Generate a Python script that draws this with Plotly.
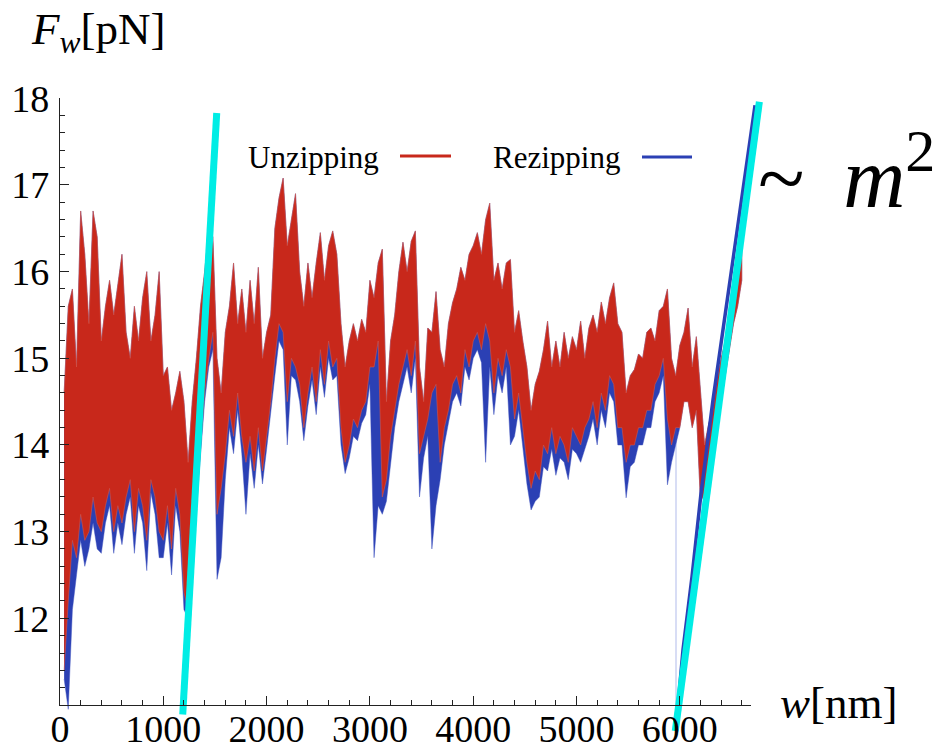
import plotly.graph_objects as go

# ---------------------------------------------------------------------------
# Data: wall force F_w (pN) versus position w (nm)
# Unzipping / rezipping force bands, sampled every 40 nm: upper and lower
# envelope of the unzipping curve, lower envelope of the rezipping curve.
# ---------------------------------------------------------------------------
W_NM = list(range(40, 6601, 40))

RED_HI = [
    14.6, 15.6, 15.8, 14.9, 16.7, 16.2, 15.4, 16.7, 16.4, 15.2,
    15.6, 15.9, 15.5, 15.85, 16.2, 15.3, 15.0, 15.6, 15.2, 15.7,
    16.0, 15.2, 15.5, 16.0, 14.8, 14.9, 14.4, 14.6, 14.85, 14.5,
    13.8, 14.5, 15.0, 15.6, 16.0, 16.5, 16.4, 15.0, 14.6, 15.3,
    15.6, 16.1, 15.4, 15.8, 15.3, 15.9, 15.4, 16.05, 15.0, 15.3,
    15.5, 16.5, 16.85, 17.08, 16.3, 16.6, 16.9, 16.0, 15.6, 16.1,
    15.7, 16.1, 16.45, 15.9, 16.3, 16.47, 16.2, 15.4, 14.9, 15.2,
    15.4, 15.2, 15.45, 15.3, 15.9, 15.7, 16.1, 16.26, 14.5, 15.2,
    15.5, 16.0, 16.34, 16.0, 16.35, 16.47, 14.9, 14.5, 15.35, 15.3,
    15.77, 15.1, 14.9, 15.4, 15.64, 15.8, 16.05, 15.9, 16.2, 16.3,
    16.45, 16.2, 16.6, 16.79, 15.9, 16.1, 15.8, 16.1, 16.14, 15.3,
    15.55, 15.2, 14.9, 14.4, 14.7, 14.85, 15.1, 15.43, 14.9, 15.2,
    14.9, 15.3, 15.0, 15.25, 15.1, 15.43, 15.0, 15.35, 15.5, 15.3,
    15.65, 15.4, 15.7, 15.87, 15.4, 15.3, 14.6, 14.8, 14.87, 15.05,
    15.0, 15.3, 15.35, 15.2, 15.55, 15.6, 15.8, 15.0, 14.8, 15.15,
    15.3, 15.58, 14.9, 15.25, 14.6, 14.0, 14.25, 14.4, 14.75, 15.0,
    15.2, 15.55, 15.8, 16.05, 16.35,
]

RED_LO = [
    11.4, 12.2, 12.9, 12.7, 13.2, 12.9, 13.0, 13.4, 13.1, 13.0,
    13.3, 13.5, 13.0, 13.3, 13.1, 13.4, 13.6, 13.0, 13.5, 13.3,
    12.9, 13.6, 13.4, 13.0, 12.9, 13.3, 12.8, 13.5, 13.2, 12.3,
    12.1, 12.8, 13.4, 14.0, 14.6, 15.0, 15.3, 13.2, 13.5, 13.9,
    14.4, 14.1, 14.6, 14.1, 13.8, 14.1, 13.7, 14.2, 13.7, 14.1,
    14.5, 15.0, 15.4, 15.3, 14.5, 15.0, 14.9, 14.7, 14.2, 14.6,
    14.9, 14.5, 15.1, 14.7, 15.2, 14.9, 15.0, 14.2, 13.8, 14.0,
    14.3, 14.2, 14.4, 14.5, 14.9, 14.9, 15.2, 13.4, 13.6, 14.1,
    14.4, 14.7, 14.9, 15.1, 14.8, 15.2, 13.9, 14.1, 14.3, 14.6,
    14.7, 13.8, 14.2, 14.4, 14.7, 14.8, 14.6, 15.1, 14.9, 15.2,
    15.3, 15.1, 15.4, 15.2, 14.6, 15.0, 14.8, 15.1, 14.9, 14.3,
    14.6, 14.2, 13.8, 13.5, 13.7, 13.6, 14.0, 13.9, 14.2, 13.9,
    14.1, 14.0, 13.8, 14.2, 14.1, 14.0, 14.2, 14.3, 14.5, 14.2,
    14.6, 14.4, 14.8, 14.7, 14.2, 14.2, 13.8, 14.0, 14.0, 14.2,
    14.2, 14.4, 14.4, 14.7, 14.8, 15.0, 14.3, 14.0, 14.2, 14.2,
    14.5, 14.5, 14.2, 14.4, 13.34, 13.45, 13.7, 13.9, 14.2, 14.5,
    14.8, 15.1, 15.4, 15.6, 15.9,
]

BLUE_LO = [
    11.3, 10.95, 12.1, 12.5, 12.9, 12.6, 12.8, 13.1, 12.8, 12.75,
    13.1, 13.3, 12.75, 13.1, 12.85, 13.2, 13.4, 12.75, 13.3, 13.1,
    12.55, 13.45, 13.2, 12.7, 12.7, 13.1, 12.5, 13.3, 13.0, 12.1,
    12.0, 12.7, 13.3, 13.9, 14.5, 14.9, 15.1, 12.45, 12.7, 13.6,
    14.2, 13.9, 14.4, 13.9, 13.2, 13.9, 13.5, 14.0, 13.55, 13.95,
    14.35, 14.8, 15.2, 15.1, 14.0, 14.8, 14.75, 14.5, 14.05, 14.45,
    14.75, 14.35, 14.9, 14.55, 15.0, 14.75, 14.8, 14.0, 13.67, 13.85,
    14.1, 14.05, 14.25, 14.35, 14.7, 12.7, 13.3, 13.2, 13.35, 13.8,
    14.2, 14.5, 14.7, 14.9, 14.6, 15.0, 13.4, 13.85, 14.1, 12.8,
    13.3, 13.6, 14.0, 14.25, 14.5, 14.6, 14.45, 14.9, 14.75, 15.0,
    15.1, 14.95, 13.8, 14.9, 14.35, 14.8, 14.6, 14.9, 14.0, 14.1,
    14.4, 14.0, 13.55, 13.25, 13.35, 13.4, 13.75, 13.7, 13.95, 13.65,
    13.85, 13.8, 13.6, 13.95, 13.9, 13.8, 13.95, 14.1, 14.3, 14.0,
    14.4, 14.2, 14.6, 14.5, 14.0, 14.0, 13.39, 13.75, 13.8, 14.0,
    14.0, 14.2, 14.2, 14.5, 14.6, 14.8, 13.54, 13.8, 14.0, 14.2,
    14.5, 14.5, 14.2, 14.4, 13.34, 13.45, 13.7, 13.9, 14.2, 14.5,
    14.8, 15.1, 15.4, 15.6, 15.9,
]

# final rezipping branch and the jump that precedes it
RAMP_W = [5983, 6031, 6118, 6205, 6321, 6457, 6592, 6728]
RAMP_F = [11.0, 11.64, 12.48, 13.44, 14.52, 15.68, 16.83, 17.92]
JUMP_W = [5963, 5963]
JUMP_F = [14.2, 11.0]

# straight guide lines along the two steep force ramps
FIT1_W = [1188, 1517]
FIT1_F = [10.89, 17.83]
FIT2_W = [5956, 6770]
FIT2_F = [10.70, 17.96]

X_TICKS = [0, 1000, 2000, 3000, 4000, 5000, 6000]
Y_TICKS = [12, 13, 14, 15, 16, 17, 18]

# ---------------------------------------------------------------------------
# Styling / geometry
# ---------------------------------------------------------------------------
FIG_W, FIG_H = 943, 751
BOX_L, BOX_R = 60.0, 751.0      # axis box, pixels
BOX_T, BOX_B = 98.3, 705.0
X_RANGE = [0, 6689]
Y_RANGE = [11.0, 18.0]

RED = "#C8281B"
BLUE = "#2B40B4"
CYAN = "#00EDE5"
SERIF = "Liberation Serif, Times New Roman, serif"

x_dom = [BOX_L / FIG_W, BOX_R / FIG_W]
y_dom = [1 - BOX_B / FIG_H, 1 - BOX_T / FIG_H]


def full_range(r, dom):
    """Range of an axis spanning the whole figure with the same scale."""
    span = (r[1] - r[0]) / (dom[1] - dom[0])
    return [r[0] - dom[0] * span, r[1] + (1 - dom[1]) * span]


fig = go.Figure()

# rezipping band (drawn first, peeks out below the unzipping band)
fig.add_trace(go.Scatter(
    x=W_NM + W_NM[::-1], y=RED_HI + BLUE_LO[::-1],
    fill="toself", fillcolor=BLUE, mode="lines",
    line=dict(color="rgba(60,80,190,0.45)", width=1.0),
    hoverinfo="skip", showlegend=False))

# unzipping band
fig.add_trace(go.Scatter(
    x=W_NM + W_NM[::-1], y=RED_HI + RED_LO[::-1],
    fill="toself", fillcolor=RED, mode="lines",
    line=dict(color="rgba(215,90,75,0.55)", width=1.0),
    hoverinfo="skip", showlegend=False))

fig.add_trace(go.Scatter(
    x=JUMP_W, y=JUMP_F, mode="lines",
    line=dict(color="rgba(70,95,205,0.35)", width=1.2),
    hoverinfo="skip", showlegend=False))

fig.add_trace(go.Scatter(
    x=RAMP_W, y=RAMP_F, mode="lines",
    line=dict(color=BLUE, width=3.5),
    hoverinfo="skip", showlegend=False))

for fw, ff in ((FIT1_W, FIT1_F), (FIT2_W, FIT2_F)):
    fig.add_trace(go.Scatter(
        x=fw, y=ff, mode="lines",
        line=dict(color=CYAN, width=7),
        hoverinfo="skip", showlegend=False))

# empty trace that carries the visible axes
fig.add_trace(go.Scatter(x=[], y=[], xaxis="x2", yaxis="y2",
                         hoverinfo="skip", showlegend=False))

axis_common = dict(
    showline=True, linecolor="#222", linewidth=1.3,
    ticks="inside", tickcolor="#222", tickwidth=1.2, ticklen=9,
    showgrid=False, zeroline=False, automargin=False,
    tickfont=dict(family=SERIF, size=38, color="black"),
)

fig.update_layout(
    width=FIG_W, height=FIG_H,
    margin=dict(l=0, r=0, t=0, b=0),
    paper_bgcolor="white", plot_bgcolor="rgba(0,0,0,0)",
    showlegend=False,
    xaxis=dict(domain=[0, 1], range=full_range(X_RANGE, x_dom), visible=False),
    yaxis=dict(domain=[0, 1], range=full_range(Y_RANGE, y_dom), visible=False),
    xaxis2=dict(domain=x_dom, range=X_RANGE, anchor="y2",
                tickvals=X_TICKS, ticklabelstandoff=-10,
                minor=dict(dtick=200, tick0=0, ticks="inside", ticklen=5,
                           tickcolor="#222", tickwidth=1.1),
                **axis_common),
    yaxis2=dict(domain=y_dom, range=Y_RANGE, anchor="x2",
                tickvals=Y_TICKS, ticklabelstandoff=2,
                minor=dict(dtick=0.2, tick0=11, ticks="inside", ticklen=5,
                           tickcolor="#222", tickwidth=1.1),
                **axis_common),
)

annotations = [
    dict(text="<i>F</i><sub><i>w</i></sub>[pN]", x=29 / FIG_W, y=1 - 32 / FIG_H,
         xanchor="left", yanchor="middle", font=dict(family=SERIF, size=45)),
    dict(text="<i>w</i>[nm]", x=778 / FIG_W, y=1 - 703 / FIG_H,
         xanchor="left", yanchor="middle", font=dict(family=SERIF, size=45)),
    dict(text="~ \u2009<i>m</i><sup>2</sup>", x=756 / FIG_W, y=1 - 171 / FIG_H,
         xanchor="left", yanchor="middle", font=dict(family=SERIF, size=86)),
    dict(text="Unzipping", x=246 / FIG_W, y=1 - 157 / FIG_H,
         xanchor="left", yanchor="middle", font=dict(family=SERIF, size=31)),
    dict(text="Rezipping", x=491 / FIG_W, y=1 - 157 / FIG_H,
         xanchor="left", yanchor="middle", font=dict(family=SERIF, size=31)),
]
for a in annotations:
    a.update(xref="paper", yref="paper", showarrow=False)
    a["font"]["color"] = "black"
fig.update_layout(annotations=annotations)

# legend swatches placed after the labels
fig.add_shape(type="line", xref="paper", yref="paper",
              x0=400 / FIG_W, x1=451 / FIG_W, y0=1 - 156 / FIG_H, y1=1 - 156 / FIG_H,
              line=dict(color=RED, width=3))
fig.add_shape(type="line", xref="paper", yref="paper",
              x0=642 / FIG_W, x1=692 / FIG_W, y0=1 - 157 / FIG_H, y1=1 - 157 / FIG_H,
              line=dict(color=BLUE, width=3))

fig.write_html("out.html")
